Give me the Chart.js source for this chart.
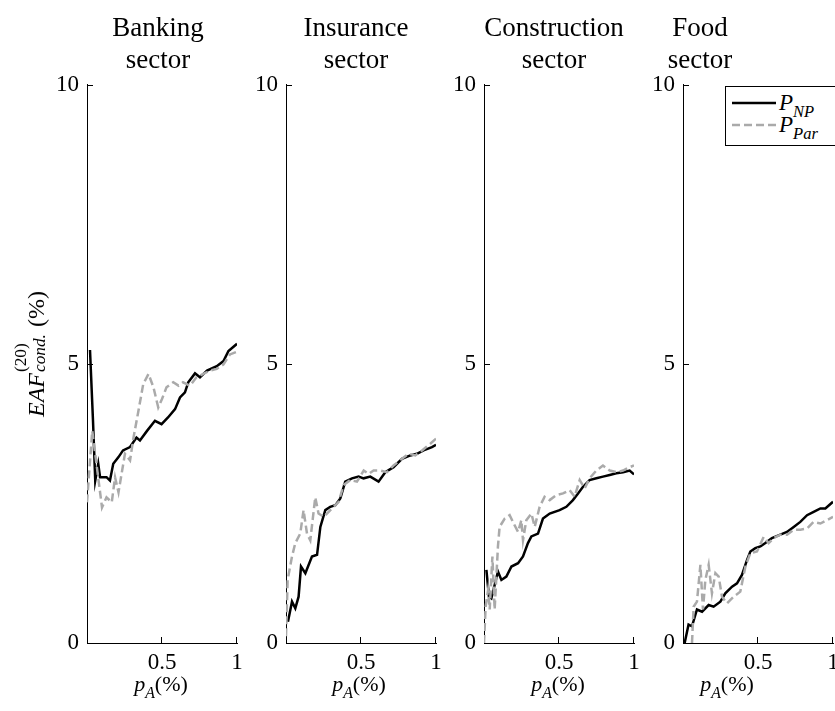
<!DOCTYPE html>
<html>
<head>
<meta charset="utf-8">
<script src="https://cdn.jsdelivr.net/npm/chart.js@4.4.1/dist/chart.umd.min.js"></script>
<style>
  html, body { margin: 0; padding: 0; background: #fff; overflow: hidden; }
  #fig { position: relative; width: 835px; height: 711px; overflow: hidden;
         font-family: "Liberation Serif", "Times New Roman", serif; color: #000; }
  .panel { position: absolute; top: 63px; }
  .title { position: absolute; top: 11px; width: 220px; margin-left: -110px;
           text-align: center; font-size: 27px; line-height: 32px; }
  .xlab { position: absolute; top: 671px; width: 120px; margin-left: -60px;
          text-align: center; font-size: 22px; line-height: 26px; white-space: nowrap; }
  .xlab sub, .legend sub { font-size: 0.72em; vertical-align: -0.45em; font-style: italic; }
  .ylab { position: absolute; left: 35px; top: 354px; font-size: 24px; white-space: nowrap;
          transform: translate(-50%, -50%) rotate(-90deg); }
  .ss { display: inline-block; position: relative; width: 46px; height: 1em; }
  .ss .sup { position: absolute; left: 1px; top: -0.55em; font-size: 0.72em; }
  .ss .sub { position: absolute; left: 1px; top: 0.55em; font-size: 0.72em; font-style: italic; }
  .legend { position: absolute; left: 725px; top: 86px; width: 140px; height: 58px;
            border: 1px solid #000; background: #fff; font-size: 23px; }
  .legend .item { position: absolute; left: 6px; height: 22px; white-space: nowrap; }
  .legend svg { position: absolute; left: 0; top: 0; }
  .legend .lab { position: absolute; left: 47px; top: -11px; font-style: italic; }
</style>
</head>
<body>
<div id="fig"></div>
<script>
// categories / labels
const panelTitles = [['Banking', 'sector'], ['Insurance', 'sector'], ['Construction', 'sector'], ['Food', 'sector']];
const xTicks = [0.5, 1];
const yTicks = [0, 5, 10];
const seriesNames = [['P', 'NP'], ['P', 'Par']];

// Banking sector
const bankNpX = [0.02, 0.04, 0.055, 0.075, 0.087, 0.13, 0.153, 0.175, 0.21, 0.24, 0.287, 0.33, 0.353, 0.4, 0.453, 0.497, 0.54, 0.587, 0.62, 0.653, 0.675, 0.72, 0.753, 0.8, 0.865, 0.91, 0.943, 1.0];
const bankNpY = [5.25, 3.98, 2.91, 3.21, 2.97, 2.97, 2.91, 3.21, 3.33, 3.45, 3.51, 3.68, 3.63, 3.80, 3.98, 3.92, 4.04, 4.19, 4.40, 4.49, 4.67, 4.83, 4.76, 4.88, 4.96, 5.05, 5.23, 5.36];
const bankParX = [0.0, 0.035, 0.1, 0.13, 0.165, 0.187, 0.21, 0.253, 0.287, 0.31, 0.343, 0.375, 0.41, 0.443, 0.475, 0.5, 0.53, 0.575, 0.61, 0.64, 0.687, 0.73, 0.775, 0.82, 0.865, 0.91, 0.953, 1.0];
const bankParY = [2.52, 3.80, 2.43, 2.61, 2.52, 2.97, 2.70, 3.39, 3.27, 3.68, 4.16, 4.64, 4.82, 4.58, 4.22, 4.37, 4.58, 4.67, 4.61, 4.67, 4.61, 4.76, 4.82, 4.88, 4.91, 4.99, 5.17, 5.22];

// Insurance sector
const insNpX = [0.013, 0.04, 0.062, 0.084, 0.1, 0.129, 0.173, 0.207, 0.229, 0.262, 0.295, 0.329, 0.362, 0.395, 0.44, 0.484, 0.517, 0.562, 0.617, 0.662, 0.717, 0.773, 0.829, 0.873, 0.917, 0.973, 1.0];
const insNpY = [0.38, 0.74, 0.62, 0.83, 1.37, 1.25, 1.55, 1.58, 2.08, 2.38, 2.44, 2.47, 2.59, 2.89, 2.95, 2.98, 2.95, 2.98, 2.89, 3.06, 3.15, 3.30, 3.36, 3.39, 3.45, 3.51, 3.55];
const insParX = [0, 0.011, 0.04, 0.062, 0.095, 0.117, 0.14, 0.162, 0.195, 0.217, 0.251, 0.307, 0.351, 0.384, 0.429, 0.473, 0.518, 0.551, 0.584, 0.629, 0.673, 0.717, 0.773, 0.818, 0.862, 0.907, 0.962, 1.0];
const insParY = [0.12, 1.13, 1.55, 1.79, 1.96, 2.38, 1.96, 1.84, 2.61, 2.32, 2.26, 2.41, 2.53, 2.83, 2.92, 2.89, 3.09, 3.03, 3.09, 3.09, 3.06, 3.18, 3.30, 3.39, 3.36, 3.45, 3.57, 3.66];

// Construction sector
const conNpX = [0.016, 0.033, 0.049, 0.071, 0.093, 0.116, 0.149, 0.183, 0.227, 0.26, 0.293, 0.316, 0.36, 0.393, 0.438, 0.504, 0.549, 0.593, 0.627, 0.66, 0.704, 0.749, 0.793, 0.838, 0.882, 0.927, 0.971, 1.0];
const conNpY = [1.31, 0.83, 0.80, 1.04, 1.28, 1.13, 1.19, 1.37, 1.43, 1.55, 1.79, 1.91, 1.96, 2.23, 2.32, 2.38, 2.44, 2.56, 2.68, 2.80, 2.92, 2.95, 2.98, 3.01, 3.04, 3.06, 3.09, 3.02];
const conParX = [0, 0.011, 0.027, 0.038, 0.056, 0.071, 0.093, 0.104, 0.138, 0.171, 0.204, 0.227, 0.249, 0.26, 0.282, 0.316, 0.338, 0.371, 0.404, 0.438, 0.482, 0.527, 0.571, 0.604, 0.638, 0.671, 0.704, 0.749, 0.793, 0.838, 0.882, 0.927, 0.971, 1.0];
const conParY = [0, 0.65, 0.95, 0.60, 1.55, 0.60, 1.73, 2.08, 2.23, 2.29, 2.11, 1.99, 2.20, 1.84, 2.20, 2.32, 2.08, 2.44, 2.62, 2.56, 2.65, 2.68, 2.74, 2.62, 2.92, 2.77, 2.95, 3.09, 3.18, 3.09, 3.06, 3.09, 3.15, 3.18];

// Food sector
const foodNpX = [0.011, 0.037, 0.06, 0.093, 0.127, 0.171, 0.204, 0.249, 0.282, 0.327, 0.36, 0.393, 0.427, 0.449, 0.482, 0.516, 0.549, 0.593, 0.649, 0.693, 0.738, 0.782, 0.827, 0.871, 0.916, 0.949, 1.0];
const foodNpY = [0, 0.33, 0.30, 0.60, 0.56, 0.68, 0.65, 0.74, 0.89, 1.01, 1.07, 1.22, 1.49, 1.64, 1.70, 1.73, 1.79, 1.88, 1.94, 1.99, 2.08, 2.17, 2.29, 2.35, 2.41, 2.41, 2.53];
const foodParX = [0.06, 0.071, 0.093, 0.116, 0.133, 0.149, 0.171, 0.193, 0.216, 0.238, 0.26, 0.293, 0.338, 0.382, 0.416, 0.449, 0.493, 0.538, 0.571, 0.604, 0.649, 0.693, 0.738, 0.782, 0.827, 0.871, 0.916, 0.96, 1.0];
const foodParY = [0, 0.65, 0.74, 1.40, 0.60, 1.13, 1.40, 0.89, 1.25, 1.19, 0.83, 0.71, 0.83, 0.92, 1.37, 1.61, 1.64, 1.90, 1.79, 1.88, 1.94, 1.94, 2.03, 2.03, 2.05, 2.17, 2.14, 2.20, 2.26];

const panelSeries = [
    [[bankNpX, bankNpY], [bankParX, bankParY]],
    [[insNpX, insNpY], [insParX, insParY]],
    [[conNpX, conNpY], [conParX, conParY]],
    [[foodNpX, foodNpY], [foodParX, foodParY]]
];

// layout
const axisLeft = [87, 286, 484, 683];
const titleCenter = [158, 356, 554, 700];
const xlabCenter = [161, 359, 558, 727];
const styles = [
    { borderColor: '#000000', borderWidth: 2.5, borderDash: [], order: 2 },
    { borderColor: '#aaaaaa', borderWidth: 2.5, borderDash: [8, 4], order: 1 }
];
const PAD_L = 60, PAD_T = 20, PAD_R = 15, PAD_B = 45, AREA_W = 150, AREA_H = 560;

const fig = document.getElementById('fig');

// inward tick marks, matlab style
const innerTicks = {
    id: 'innerTicks',
    afterDraw(chart) {
        const { ctx, chartArea, scales } = chart;
        ctx.save();
        ctx.strokeStyle = '#000';
        ctx.lineWidth = 1;
        ctx.beginPath();
        xTicks.forEach(v => {
            const px = Math.round(scales.x.getPixelForValue(v)) - 0.5;
            ctx.moveTo(px, chartArea.bottom);
            ctx.lineTo(px, chartArea.bottom - 6);
        });
        yTicks.slice(1).forEach(v => {
            const py = Math.round(scales.y.getPixelForValue(v)) + 0.5;
            ctx.moveTo(chartArea.left, py);
            ctx.lineTo(chartArea.left + 6, py);
        });
        ctx.stroke();
        ctx.restore();
    }
};

const tickFont = { family: '"Liberation Serif", "Times New Roman", serif', size: 23 };

panelSeries.forEach((series, p) => {
    const canvas = document.createElement('canvas');
    canvas.className = 'panel';
    canvas.width = PAD_L + AREA_W + PAD_R;
    canvas.height = PAD_T + AREA_H + PAD_B;
    canvas.style.left = (axisLeft[p] - PAD_L) + 'px';
    fig.appendChild(canvas);

    new Chart(canvas.getContext('2d'), {
        type: 'line',
        data: {
            datasets: series.map((s, i) => ({
                label: seriesNames[i].join('_'),
                data: s[0].map((x, k) => ({ x: x, y: s[1][k] })),
                borderColor: styles[i].borderColor,
                borderWidth: styles[i].borderWidth,
                borderDash: styles[i].borderDash,
                order: styles[i].order,
                pointRadius: 0,
                tension: 0,
                fill: false
            }))
        },
        options: {
            responsive: false,
            animation: false,
            layout: { padding: { left: 0, top: PAD_T, right: PAD_R, bottom: 0 } },
            plugins: { legend: { display: false }, tooltip: { enabled: false } },
            scales: {
                x: {
                    type: 'linear',
                    min: 0,
                    max: 1,
                    afterBuildTicks: scale => { scale.ticks = xTicks.map(v => ({ value: v })); },
                    afterFit: scale => { scale.height = PAD_B; },
                    grid: { drawOnChartArea: false, drawTicks: false },
                    border: { display: true, color: '#000', width: 1 },
                    ticks: { color: '#000', font: tickFont, padding: 6, maxRotation: 0,
                             callback: v => String(v) }
                },
                y: {
                    min: 0,
                    max: 10,
                    afterBuildTicks: scale => { scale.ticks = yTicks.map(v => ({ value: v })); },
                    afterFit: scale => { scale.width = PAD_L; },
                    grid: { drawOnChartArea: false, drawTicks: false },
                    border: { display: true, color: '#000', width: 1 },
                    ticks: { color: '#000', font: tickFont, padding: 8, callback: v => String(v) }
                }
            }
        },
        plugins: [innerTicks]
    });

    const t = document.createElement('div');
    t.className = 'title';
    t.style.left = titleCenter[p] + 'px';
    t.innerHTML = panelTitles[p].join('<br>');
    fig.appendChild(t);

    const xl = document.createElement('div');
    xl.className = 'xlab';
    xl.style.left = xlabCenter[p] + 'px';
    xl.innerHTML = '<i>p</i><sub>A</sub>(%)';
    fig.appendChild(xl);
});

// y axis label
const yl = document.createElement('div');
yl.className = 'ylab';
yl.innerHTML = '<i>EAF</i><span class="ss"><span class="sup">(20)</span><span class="sub">cond.</span></span>(%)';
fig.appendChild(yl);

// legend (built from the series styles)
const legend = document.createElement('div');
legend.className = 'legend';
seriesNames.forEach((name, i) => {
    const item = document.createElement('div');
    item.className = 'item';
    item.style.top = (15 + i * 22 - 1) + 'px';
    const st = styles[i];
    item.innerHTML =
        '<svg width="44" height="4"><line x1="0" y1="2" x2="44" y2="2" stroke="' + st.borderColor +
        '" stroke-width="' + st.borderWidth + '" stroke-dasharray="' + (st.borderDash.join(' ') || 'none') + '"/></svg>' +
        '<span class="lab">' + name[0] + '<sub>' + name[1] + '</sub></span>';
    legend.appendChild(item);
});
fig.appendChild(legend);
</script>
</body>
</html>
